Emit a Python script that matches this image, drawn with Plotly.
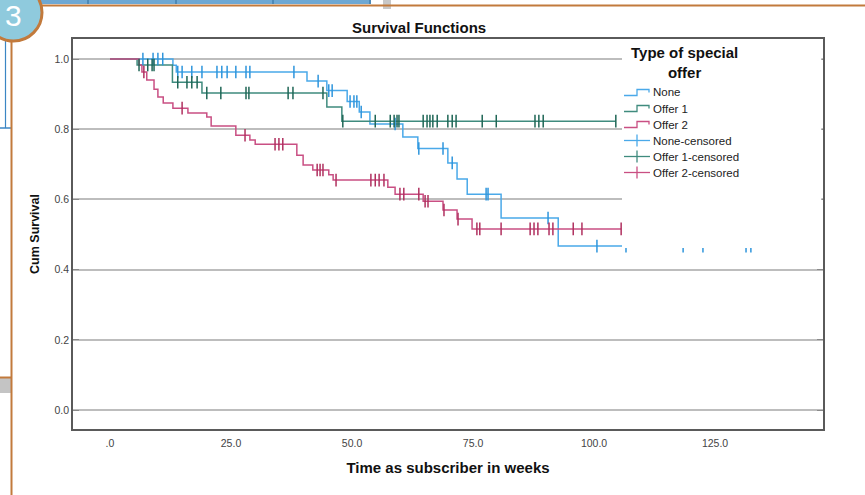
import plotly.graph_objects as go

# ---------------- data ----------------
groups = ["None", "Offer 1", "Offer 2"]

none_event_t = [13.0, 13.7, 40.7, 44.8, 49.0, 51.5, 53.7, 60.5, 63.6, 69.8, 71.7, 73.8, 80.8, 92.6]
none_event_s = [0.982, 0.963, 0.937, 0.910, 0.879, 0.849, 0.815, 0.778, 0.745, 0.704, 0.658, 0.615, 0.547, 0.467]
none_cens_t = [6.8, 8.9, 9.9, 10.9, 14.0, 14.9, 16.9, 19.0, 22.1, 23.1, 24.2, 26.0, 28.1, 28.9, 38.0,
               43.0, 45.2, 45.9, 49.6, 50.4, 51.0, 51.9, 58.9, 63.8, 68.8, 70.7, 77.7, 78.1, 90.5,
               100.6, 106.6, 118.4, 122.5, 131.4, 132.4]

offer1_event_t = [5.6, 12.9, 19.0, 44.8, 47.9]
offer1_event_s = [0.983, 0.934, 0.903, 0.863, 0.823]
offer1_cens_t = [6.0, 7.8, 8.7, 9.1, 14.0, 15.9, 16.9, 18.0, 20.0, 22.9, 28.1, 28.7, 36.8, 37.8, 44.0,
                 48.1, 54.8, 57.9, 58.7, 59.3, 59.7, 64.7, 65.5, 66.1, 66.7, 67.6, 69.8, 70.7, 71.5,
                 76.9, 79.8, 87.8, 88.6, 89.5, 104.5]

offer2_event_t = [6.0, 6.6, 7.6, 9.1, 9.9, 11.0, 13.0, 16.1, 20.0, 20.9, 26.0, 28.9, 30.0, 38.6, 39.9,
                  41.9, 45.2, 46.1, 57.4, 58.9, 64.7, 68.8, 71.7, 74.8]
offer2_event_s = [0.983, 0.963, 0.940, 0.914, 0.892, 0.875, 0.860, 0.846, 0.835, 0.809, 0.783, 0.769,
                  0.757, 0.726, 0.698, 0.684, 0.670, 0.655, 0.635, 0.615, 0.595, 0.570, 0.544, 0.516]
offer2_cens_t = [7.0, 14.9, 27.9, 34.1, 34.9, 35.7, 42.8, 43.4, 44.0, 46.7, 53.9, 54.8, 55.6, 56.6,
                 59.9, 60.7, 63.8, 65.1, 65.7, 69.0, 71.9, 75.8, 76.4, 80.8, 86.8, 87.6, 88.4, 90.7,
                 91.5, 95.7, 97.5, 105.6]

x_tickvals = [0, 25, 50, 75, 100, 125]
x_ticktext = [".0", "25.0", "50.0", "75.0", "100.0", "125.0"]
y_tickvals = [0.0, 0.2, 0.4, 0.6, 0.8, 1.0]
y_ticktext = ["0.0", "0.2", "0.4", "0.6", "0.8", "1.0"]

legend_labels = ["None", "Offer 1", "Offer 2", "None-censored", "Offer 1-censored", "Offer 2-censored"]

# ---------------- styles ----------------
FONT = "Liberation Sans, Arial, sans-serif"
line_colors = ["#4aa9e9", "#3f8b7e", "#c94f83"]
mark_colors = ["#2e95dc", "#1f6656", "#b0305f"]

W, H = 865, 495
L, R, T, B = 73, 42, 39, 66
PW, PH = W - L - R, H - T - B


def px(x):
    return (x - L) / PW


def py(y):
    return (H - B - y) / PH


def surv_at(t, ev_t, ev_s):
    s = 1.0
    for te, se in zip(ev_t, ev_s):
        if te <= t:
            s = se
    return s


fig = go.Figure()
series = [(none_event_t, none_event_s, none_cens_t),
          (offer1_event_t, offer1_event_s, offer1_cens_t),
          (offer2_event_t, offer2_event_s, offer2_cens_t)]

for i, (et, es, ct) in enumerate(series):
    end_t = max(et + ct)
    xs = [0.0] + et + [end_t]
    ys = [1.0] + es + [es[-1]]
    fig.add_trace(go.Scatter(x=xs, y=ys, mode="lines", line=dict(shape="hv", color=line_colors[i], width=1.5),
                             name=groups[i], showlegend=False, hoverinfo="skip"))
for i, (et, es, ct) in enumerate(series):
    cy = [surv_at(t, et, es) for t in ct]
    fig.add_trace(go.Scatter(x=ct, y=cy, mode="markers",
                             marker=dict(symbol="line-ns-open", size=9, color=mark_colors[i],
                                         line=dict(color=mark_colors[i], width=1.5)),
                             name=groups[i] + "-censored", showlegend=False, hoverinfo="skip"))

shapes = []
annotations = []

# white legend box covering part of plot
shapes.append(dict(type="rect", xref="paper", yref="paper", x0=px(622), x1=px(821.3), y0=py(248), y1=py(40.2),
                   fillcolor="white", line=dict(width=0), layer="above"))

# legend icons + texts
row_y = [92.5 + 16 * k for k in range(6)]
for k in range(3):
    y = row_y[k]
    path = "M {},{} L {},{} L {},{} L {},{} L {},{}".format(
        px(624), py(y + 3), px(637), py(y + 3), px(637), py(y - 3), px(649), py(y - 3), px(649), py(y))
    shapes.append(dict(type="path", xref="paper", yref="paper", path=path,
                       line=dict(color=line_colors[k], width=1.3), layer="above"))
for k in range(3):
    y = row_y[k + 3]
    shapes.append(dict(type="line", xref="paper", yref="paper", x0=px(624), x1=px(650), y0=py(y), y1=py(y),
                       line=dict(color=line_colors[k], width=1.3), layer="above"))
    shapes.append(dict(type="line", xref="paper", yref="paper", x0=px(637), x1=px(637), y0=py(y - 6), y1=py(y + 6),
                       line=dict(color=line_colors[k], width=1.3), layer="above"))
for k, lab in enumerate(legend_labels):
    annotations.append(dict(text=lab, xref="paper", yref="paper", x=px(651), y=py(row_y[k]),
                            xanchor="left", yanchor="middle", showarrow=False,
                            font=dict(family=FONT, size=11.5, color="#222222")))
annotations.append(dict(text="<b>Type of special<br>offer</b>", xref="paper", yref="paper", x=px(684), y=py(62.5),
                        xanchor="center", yanchor="middle", align="center", showarrow=False,
                        font=dict(family=FONT, size=15, color="#111111")))

# chart title
annotations.append(dict(text="<b>Survival Functions</b>", xref="paper", yref="paper", x=px(418.5), y=py(27),
                        xanchor="center", yanchor="middle", showarrow=False,
                        font=dict(family=FONT, size=15, color="#111111")))

# ---- slide decorations around the chart ----
orange = "#c27a3c"
shapes.append(dict(type="rect", xref="paper", yref="paper", x0=px(30), x1=px(371), y0=py(4), y1=py(-2),
                   fillcolor="#6ea8d3", line=dict(width=0)))
for xv in [88, 176, 273, 370]:
    shapes.append(dict(type="line", xref="paper", yref="paper", x0=px(xv), x1=px(xv), y0=py(4), y1=py(-2),
                       line=dict(color="#2d6a9a", width=1)))
shapes.append(dict(type="rect", xref="paper", yref="paper", x0=px(383), x1=px(391), y0=py(9), y1=py(-2),
                   fillcolor="#c8c8c8", line=dict(width=0)))
shapes.append(dict(type="line", xref="paper", yref="paper", x0=px(30), x1=px(870), y0=py(5.5), y1=py(5.5),
                   line=dict(color=orange, width=2)))
shapes.append(dict(type="line", xref="paper", yref="paper", x0=px(5.5), x1=px(5.5), y0=py(128), y1=py(30),
                   line=dict(color="#3b86c4", width=1.2)))
shapes.append(dict(type="line", xref="paper", yref="paper", x0=px(-2), x1=px(12), y0=py(128), y1=py(128),
                   line=dict(color="#3b86c4", width=1.5)))
shapes.append(dict(type="rect", xref="paper", yref="paper", x0=px(-2), x1=px(11), y0=py(393), y1=py(378),
                   fillcolor="#c4c4c4", line=dict(width=0)))
shapes.append(dict(type="line", xref="paper", yref="paper", x0=px(-2), x1=px(12), y0=py(377.5), y1=py(377.5),
                   line=dict(color=orange, width=2)))
shapes.append(dict(type="line", xref="paper", yref="paper", x0=px(11.5), x1=px(11.5), y0=py(500), y1=py(30),
                   line=dict(color=orange, width=2)))
shapes.append(dict(type="circle", xref="paper", yref="paper", x0=px(-15), x1=px(42), y0=py(41), y1=py(-16),
                   fillcolor="#8fcadd", line=dict(color=orange, width=3)))
annotations.append(dict(text="3", xref="paper", yref="paper", x=px(13), y=py(15),
                        xanchor="center", yanchor="middle", showarrow=False,
                        font=dict(family=FONT, size=30, color="white")))

fig.update_layout(
    width=W, height=H,
    margin=dict(l=L, r=R, t=T, b=B, autoexpand=False),
    paper_bgcolor="white", plot_bgcolor="white",
    font=dict(family=FONT, size=10.5, color="#444444"),
    showlegend=False,
    shapes=shapes, annotations=annotations,
    xaxis=dict(range=[-7.64, 147.3], tickvals=x_tickvals, ticktext=x_ticktext, showgrid=False, zeroline=False,
               showline=True, linecolor="#5a5a5a", linewidth=1.6, mirror=True, ticks="",
               ticklabelstandoff=4, tickfont=dict(size=10.5, color="#444444"),
               title=dict(text="<b>Time as subscriber in weeks</b>", standoff=14,
                          font=dict(family=FONT, size=15, color="#111111"))),
    yaxis=dict(range=[-0.054, 1.057], tickvals=y_tickvals, ticktext=y_ticktext, showgrid=True,
               gridcolor="#bdbdbd", gridwidth=1.5, zeroline=False,
               showline=True, linecolor="#5a5a5a", linewidth=1.6, mirror="ticks", ticks="inside",
               ticklen=6, tickcolor="#8a8a8a", tickwidth=1, tickfont=dict(size=10.5, color="#444444"),
               title=dict(text="<b>Cum Survival</b>", standoff=12,
                          font=dict(family=FONT, size=12.5, color="#111111"))),
)

fig.write_html("out.html", config={"displayModeBar": False},
               post_script="document.body.style.margin='0';document.body.style.overflow='hidden';")
